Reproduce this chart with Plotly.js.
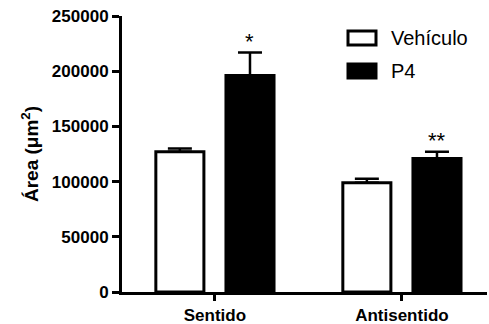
<!DOCTYPE html>
<html><head><meta charset="utf-8">
<script src="https://cdn.plot.ly/plotly-3.0.1.min.js"></script>
<style>html,body{margin:0;padding:0;background:#fff}#chart{width:489px;height:324px}</style>
</head><body><div id="chart"></div>
<script>
var categories = ['Sentido', 'Antisentido'];
var seriesNames = ['Vehículo', 'P4'];
var seriesFill = ['#ffffff', '#000000'];
var vehiculoValues = [127000, 99000];
var vehiculoErrors = [3000, 3500];
var p4Values = [196000, 121000];
var p4Errors = [21000, 6000];
var sigLabels = ['*', '**'];
var yTicks = [0, 50000, 100000, 150000, 200000, 250000];

var barW = 0.257;
var font = 'Liberation Sans, Arial, sans-serif';
var traces = [
  {type:'bar', name:seriesNames[0], x:categories, y:vehiculoValues,
   width:barW, offset:-0.316, showlegend:false,
   marker:{color:seriesFill[0], line:{color:'#000', width:3}},
   error_y:{type:'data', array:vehiculoErrors, arrayminus:[0,0], symmetric:false, color:'#000', thickness:2.5, width:12}},
  {type:'bar', name:seriesNames[1], x:categories, y:p4Values,
   width:barW, offset:0.059, showlegend:false,
   marker:{color:seriesFill[1], line:{color:'#000', width:3}},
   error_y:{type:'data', array:p4Errors, arrayminus:[0,0], symmetric:false, color:'#000', thickness:2.5, width:12}}
];
var ann = sigLabels.map(function(t, i){
  return {x: i + 0.059 + barW/2, y: p4Values[i] + p4Errors[i] - 3000, xref:'x', yref:'y', text:t,
    showarrow:false, yanchor:'bottom', font:{family:font, size:22, color:'#000'}};
});
// custom legend (pixel layout converted to paper coords)
var L = 122, W = 365, B = 292, H = 276;
function px(v){ return (v - L) / W; }
function py(v){ return (B - v) / H; }
var shapes = [];
var legendRows = [38, 71];
seriesNames.forEach(function(n, i){
  var cy = legendRows[i];
  shapes.push({type:'rect', xref:'paper', yref:'paper', x0:px(348), x1:px(376), y0:py(cy-7), y1:py(cy+7),
    fillcolor:seriesFill[i], line:{color:'#000', width:3}});
  ann.push({xref:'paper', yref:'paper', x:px(389), y:py(cy), xanchor:'left', yanchor:'middle', showarrow:false,
    text:n, font:{family:font, size:20, color:'#000'}});
});
var layout = {
  width:489, height:324,
  margin:{l:122, r:2, t:16, b:32},
  paper_bgcolor:'#fff', plot_bgcolor:'#fff',
  barmode:'overlay',
  showlegend:false,
  xaxis:{type:'category', range:[-0.497, 1.455], showline:true, linecolor:'#000', linewidth:3,
    ticks:'outside', ticklen:6, tickwidth:3, tickcolor:'#000', showgrid:false, zeroline:false,
    tickfont:{family:font, size:17, color:'#000', weight:'bold'}},
  yaxis:{range:[0,250000], tickvals:yTicks, tickformat:'d', showline:true, linecolor:'#000', linewidth:3,
    ticks:'outside', ticklen:7, tickwidth:3, tickcolor:'#000', showgrid:false, zeroline:false,
    tickfont:{family:font, size:17, color:'#000', weight:'bold'},
    title:{text:'Área (μm<sup>2</sup>)', font:{family:font, size:19, color:'#000', weight:'bold'}, standoff:9}},
  annotations: ann,
  shapes: shapes
};
Plotly.newPlot('chart', traces, layout, {displayModeBar:false, staticPlot:true});
</script></body></html>
